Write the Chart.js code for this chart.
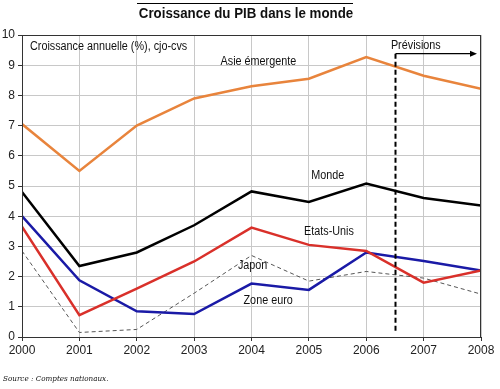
<!DOCTYPE html>
<html>
<head>
<meta charset="utf-8">
<script src="https://cdn.jsdelivr.net/npm/chart.js@4"></script>
<style>
  html, body { margin: 0; padding: 0; background: #fff; }
  #box { width: 500px; height: 389px; }
</style>
</head>
<body>
<div id="box"><canvas id="chart" width="500" height="389"></canvas></div>
<script>
// --- data ---
const years = [2000, 2001, 2002, 2003, 2004, 2005, 2006, 2007, 2008];
const asieEmergente = [7.05, 5.5, 7.0, 7.9, 8.3, 8.55, 9.27, 8.65, 8.22];
const monde = [4.8, 2.35, 2.8, 3.7, 4.82, 4.47, 5.08, 4.6, 4.35];
const etatsUnis = [3.65, 0.72, 1.6, 2.5, 3.62, 3.05, 2.85, 1.8, 2.2];
const zoneEuro = [4.0, 1.88, 0.85, 0.76, 1.77, 1.56, 2.8, 2.52, 2.2];
const japon = [2.85, 0.15, 0.25, 1.45, 2.7, 1.85, 2.17, 1.95, 1.42];
const yTicks = [0, 1, 2, 3, 4, 5, 6, 7, 8, 9, 10];
const forecastStart = 2006.5;

const FONT = '"Liberation Sans", Arial, sans-serif';

function series(values) {
    return values.map((v, i) => ({ x: years[i], y: v }));
}

// text squeezed a little horizontally, like the narrow font of the original
function narrowText(ctx, text, x, y, align, squeeze) {
    const w = ctx.measureText(text).width * squeeze;
    let left = x;
    if (align === 'center') left = x - w / 2;
    ctx.save();
    ctx.textAlign = 'left';
    ctx.translate(left, y);
    ctx.scale(squeeze, 1);
    ctx.fillText(text, 0, 0);
    ctx.restore();
}

// labels, forecast marker, title and source drawn on top of the chart
const decorations = {
    id: 'decorations',
    afterDatasetsDraw(chart) {
        const { ctx, chartArea: area, scales: { x, y } } = chart;
        ctx.save();

        // frame
        ctx.strokeStyle = '#333';
        ctx.lineWidth = 1;
        ctx.strokeRect(area.left + 0.5, area.top + 0.5, area.right - area.left - 1, area.bottom - area.top);

        // forecast marker
        const fx = Math.round(x.getPixelForValue(forecastStart)) + 0.5;
        const topY = y.getPixelForValue(9.38);
        ctx.strokeStyle = '#000';
        ctx.lineWidth = 2;
        ctx.setLineDash([5, 3]);
        ctx.beginPath();
        ctx.moveTo(fx, topY);
        ctx.lineTo(fx, y.getPixelForValue(0.15));
        ctx.stroke();
        ctx.setLineDash([]);
        ctx.lineWidth = 1.2;
        const arrowEnd = x.getPixelForValue(2007.93);
        ctx.beginPath();
        ctx.moveTo(fx, topY);
        ctx.lineTo(arrowEnd - 4, topY);
        ctx.stroke();
        ctx.beginPath();
        ctx.moveTo(arrowEnd, topY);
        ctx.lineTo(arrowEnd - 7, topY - 3);
        ctx.lineTo(arrowEnd - 7, topY + 3);
        ctx.closePath();
        ctx.fill();

        // text labels
        const sq = 0.9;
        ctx.fillStyle = '#111';
        ctx.font = '12px ' + FONT;
        ctx.textBaseline = 'middle';
        narrowText(ctx, 'Croissance annuelle (%), cjo-cvs', area.left + 8, y.getPixelForValue(9.6), 'left', sq);
        narrowText(ctx, 'Prévisions', x.getPixelForValue(2006.43), y.getPixelForValue(9.65), 'left', sq);
        narrowText(ctx, 'Asie émergente', x.getPixelForValue(2004.12), y.getPixelForValue(9.1), 'center', sq);
        narrowText(ctx, 'Monde', x.getPixelForValue(2005.33), y.getPixelForValue(5.35), 'center', sq);
        narrowText(ctx, 'Etats-Unis', x.getPixelForValue(2005.35), y.getPixelForValue(3.5), 'center', sq);
        narrowText(ctx, 'Japon', x.getPixelForValue(2004.02), y.getPixelForValue(2.35), 'center', sq);
        narrowText(ctx, 'Zone euro', x.getPixelForValue(2004.29), y.getPixelForValue(1.2), 'center', sq);

        // title with overline
        ctx.font = 'bold 14px ' + FONT;
        narrowText(ctx, 'Croissance du PIB dans le monde', 246, 14, 'center', 0.95);
        ctx.lineWidth = 1;
        ctx.beginPath();
        ctx.moveTo(137, 3.5);
        ctx.lineTo(353, 3.5);
        ctx.stroke();

        // source
        ctx.font = 'italic 8px "DejaVu Serif", serif';
        narrowText(ctx, 'Source : Comptes nationaux.', 3, 379, 'left', 0.9);
        ctx.restore();
    }
};

new Chart(document.getElementById('chart'), {
    type: 'line',
    data: {
        datasets: [
            { label: 'Asie émergente', data: series(asieEmergente), borderColor: '#e8843c', borderWidth: 2.5 },
            { label: 'Monde', data: series(monde), borderColor: '#000000', borderWidth: 2.5 },
            { label: 'Etats-Unis', data: series(etatsUnis), borderColor: '#d9302a', borderWidth: 2.5 },
            { label: 'Zone euro', data: series(zoneEuro), borderColor: '#1a1aa6', borderWidth: 2.5 },
            { label: 'Japon', data: series(japon), borderColor: '#555555', borderWidth: 1, borderDash: [4, 3] }
        ]
    },
    options: {
        responsive: false,
        animation: false,
        events: [],
        layout: { padding: { left: 0, right: 19, top: 35, bottom: 32 } },
        elements: {
            point: { radius: 0 },
            line: { tension: 0, fill: false }
        },
        plugins: {
            legend: { display: false },
            title: { display: false },
            tooltip: { enabled: false }
        },
        scales: {
            x: {
                type: 'linear',
                min: 2000,
                max: 2008,
                afterBuildTicks: scale => { scale.ticks = years.map(v => ({ value: v })); },
                afterFit: scale => { scale.height = 20; },
                grid: { color: '#c8c8c8', lineWidth: 1, drawTicks: true, tickLength: 4, tickColor: '#333' },
                border: { color: '#222', width: 1 },
                ticks: {
                    color: '#222',
                    font: { family: FONT, size: 12 },
                    padding: 2,
                    maxRotation: 0,
                    autoSkip: false,
                    callback: v => String(v)
                }
            },
            y: {
                min: 0,
                max: 10,
                afterBuildTicks: scale => { scale.ticks = yTicks.map(v => ({ value: v })); },
                afterFit: scale => { scale.width = 22; },
                grid: { color: '#c8c8c8', lineWidth: 1, drawTicks: true, tickLength: 4, tickColor: '#333' },
                border: { color: '#222', width: 1 },
                ticks: {
                    color: '#222',
                    font: { family: FONT, size: 12 },
                    padding: 3
                }
            }
        }
    },
    plugins: [decorations]
});
</script>
</body>
</html>
